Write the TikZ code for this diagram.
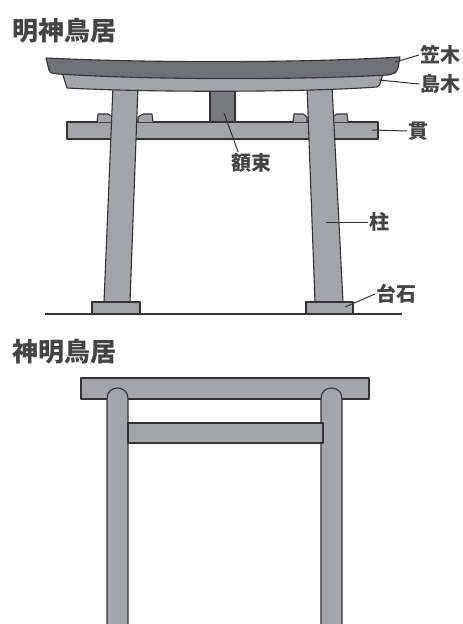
\documentclass[tikz,border=0pt]{standalone}
\usepackage{fontspec}
\setmainfont{Noto Sans CJK JP}
\usepackage{tikz}
\definecolor{ink}{HTML}{333333}
\definecolor{textgray}{HTML}{444444}
\definecolor{woodlight}{HTML}{A4A5A8}
\definecolor{wooddark}{HTML}{707174}
\definecolor{woodmid}{HTML}{7A7B7E}

\begin{document}
\begin{tikzpicture}[x=1pt,y=-1pt,
    part/.style={draw=ink,line width=1.1pt,line join=round,fill=woodlight},
    lbl/.style={text=textgray,font=\fontsize{20}{22}\selectfont\bfseries,inner sep=1pt},
    title/.style={text=textgray,font=\fontsize{26}{28}\selectfont\bfseries,inner sep=0pt},
    leader/.style={draw=ink,line width=1pt}]
  \useasboundingbox (0,0) rectangle (463,624);

  % 明神鳥居
  \node[title,anchor=west] (myojin) at (12,31) {明神鳥居};
  \draw[part] (67,122) rectangle (378,139);
  \draw[part] (97,122) -- (98,114) -- (108,114) -- (113,117) -- (113,122);
  \draw[part] (138,122) -- (138,117) -- (143,114) -- (152,114) -- (153,122);
  \draw[part] (293,122) -- (294,114) -- (303,114) -- (307,117) -- (307,122);
  \draw[part] (332,122) -- (332,117) -- (337,114) -- (347,114) -- (348,122);
  \draw[part] (113,86) -- (138,86) -- (130,302) -- (104,302) -- cycle;
  \draw[part] (307,86) -- (332,86) -- (343,302) -- (315,302) -- cycle;
  \draw[part,fill=woodmid] (210,86) rectangle (235,122);
  \draw[part] (62,72) -- (67,88) .. controls (150,92.5) and (300,92.5) .. (377,87)
    .. controls (380,85) .. (381,80) -- (384,72) -- cycle;
  \draw[part,fill=wooddark] (46,58) .. controls (150,63) and (300,63) .. (400,57)
    -- (398,68) .. controls (396,73) .. (388,75)
    .. controls (300,80) and (150,80) .. (58,74)
    .. controls (50,73) .. (49,70) -- cycle;
  \draw[part] (92,302) rectangle (140,314);
  \draw[part] (306,302) rectangle (353,314);
  \draw[ink,line width=1.2pt] (45,314) -- (402,314);

  \node[lbl,anchor=west] (kasagi) at (419,55) {笠木};
  \node[lbl,anchor=west] (shimaki) at (419,84) {島木};
  \node[lbl,anchor=west] (nuki) at (407,131) {貫};
  \node[lbl] (gakuzuka) at (251,163) {額束};
  \node[lbl,anchor=west] (hashira) at (368,222) {柱};
  \node[lbl,anchor=west] (daiishi) at (375,294) {台石};
  \coordinate (kasagi-end) at (395,62);
  \coordinate (shimaki-end) at (379,80);
  \coordinate (nuki-end) at (372,130);
  \coordinate (gakuzuka-end) at (224,113);
  \coordinate (hashira-end) at (326,222);
  \coordinate (daiishi-end) at (345,307);
  \draw[leader] (kasagi-end) -- (kasagi.west);
  \draw[leader] (shimaki-end) -- (shimaki.west);
  \draw[leader] (nuki-end) -- (nuki.west);
  \draw[leader] (gakuzuka-end) -- (gakuzuka.140);
  \draw[leader] (hashira-end) -- (hashira.west);
  \draw[leader] (daiishi-end) -- (daiishi.west);

  % 神明鳥居
  \node[title,anchor=west] (shinmei) at (12,352) {神明鳥居};
  \draw[part] (81,378) rectangle (369,399);
  \draw[part] (107,630) -- (107,398.5) .. controls (107,384.5) and (128,384.5) .. (128,398.5) -- (128,630);
  \draw[part] (321,630) -- (321,398.5) .. controls (321,384.5) and (342,384.5) .. (342,398.5) -- (342,630);
  \draw[part] (128,423) rectangle (323,443);
\end{tikzpicture}
\end{document}
